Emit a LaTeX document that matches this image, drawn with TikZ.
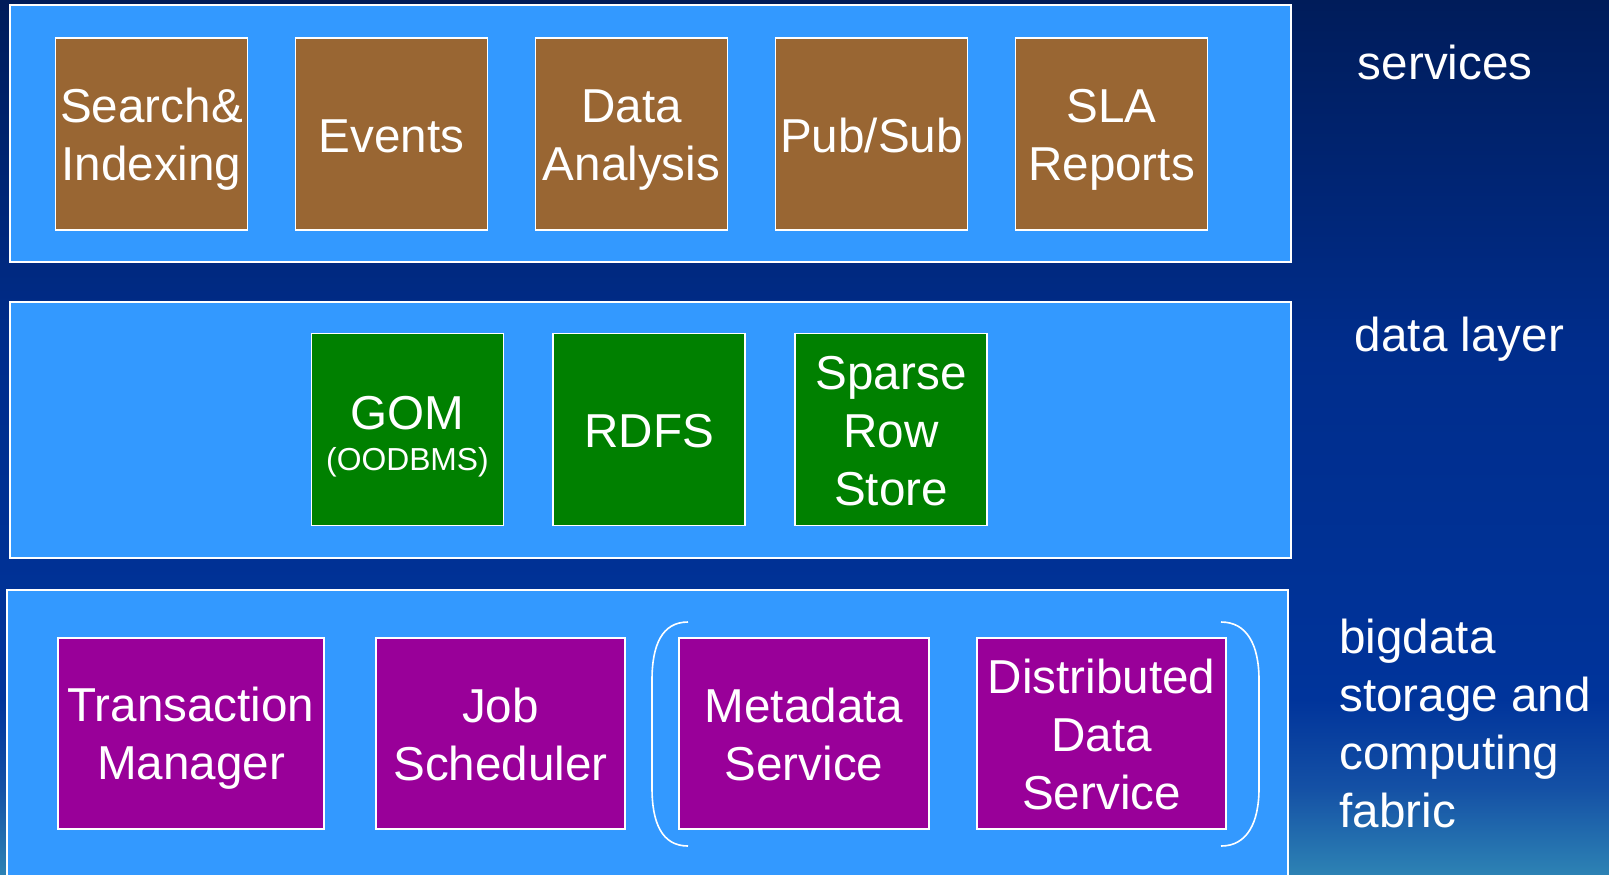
\documentclass[tikz,border=0pt]{standalone}
\usepackage{fontspec}
\setmainfont{Liberation Sans}
\usetikzlibrary{positioning}

\definecolor{seanavy}{RGB}{0,28,90}
\definecolor{seablue}{RGB}{0,45,140}
\definecolor{seamid}{RGB}{0,52,155}
\definecolor{seaup}{RGB}{20,80,165}
\definecolor{seateal}{RGB}{45,130,180}
\definecolor{layerblue}{RGB}{51,153,255}
\definecolor{servbrown}{RGB}{153,102,51}
\definecolor{datagreen}{RGB}{0,128,0}
\definecolor{fabpurple}{RGB}{153,0,153}

\pgfdeclareverticalshading{deepsea}{100bp}{%
	color(0bp)=(seateal); color(25bp)=(seateal); color(30bp)=(seaup);
	color(35bp)=(seamid); color(55bp)=(seablue); color(75bp)=(seanavy);
	color(100bp)=(seanavy)}

% strut for the first line of a block
\newcommand\capstrut{\vrule height 22pt depth 0pt width 0pt}

\begin{document}
\begin{tikzpicture}[x=0.5pt, y=-0.5pt,
	layer/.style={draw=white, line width=0.8pt, fill=layerblue},
	block/.style={draw=white, line width=0.9pt, text=white, align=center,
		inner sep=0pt, minimum width=96pt, minimum height=96pt,
		font=\fontsize{23.8}{29}\selectfont,
		execute at end node={\vrule height 0pt depth 4pt width 0pt}},
	svc/.style={block, fill=servbrown},
	dat/.style={block, fill=datagreen},
	fab/.style={block, fill=fabpurple, minimum height=95.5pt},
	tag/.style={text=white, align=left, inner sep=0pt,
		font=\fontsize{23.8}{29}\selectfont},
	bracket/.style={draw=white, line width=0.8pt}]

% parameters %{{{2

	\def\pitch{240}
	\def\svcy{134}
	\def\daty{429.5}
	\def\faby{733.5}

% background %{{{2

	\useasboundingbox (0,0) rectangle (1609,874);
	\shade[shading=deepsea] (0,0) rectangle (1609,874);
	\clip (0,0) rectangle (1609,874);

% layers %{{{2

	\draw[layer] (10,5) rectangle (1291,262);
	\draw[layer] (10,302) rectangle (1291,558);
	\draw[layer] (7,590) rectangle (1288,884);

% services %{{{2

	\foreach \name/\txt [count=\i] in {srch/{Search\&\\Indexing}, evts/Events,
		anls/{Data\\Analysis}, pubs/{Pub/Sub}, slar/{SLA\\Reports}} {
		\node[svc] (\name) at ({151.5+\pitch*(\i-1)},\svcy) {\capstrut\txt};
	}

% data layer %{{{2

	\node[dat] (gom) at (407.5,\daty)
		{\vrule height 24.4pt width 0pt GOM\\[-8.2pt]{\fontsize{15.9}{19}\selectfont(OODBMS)}};
	\node[dat, right=24pt of gom] (rdfs) {\capstrut RDFS};
	\node[dat, right=24pt of rdfs] (srs) {\capstrut Sparse\\Row\\Store};

% fabric %{{{2

	\node[fab, minimum width=133pt] (txm) at (191,\faby) {\capstrut Transaction\\Manager};
	\node[fab, minimum width=124.5pt] (jobs) at (500.5,\faby) {\capstrut Job\\Scheduler};
	\node[fab, minimum width=125pt] (mds) at (804,\faby) {\capstrut Metadata\\Service};
	\node[fab, minimum width=124.5pt] (dds) at (1101.5,\faby) {\capstrut Distributed\\Data\\Service};

% brackets round the metadata and data services %{{{2

	\draw[bracket] (688,622) .. controls (662,622) and (652,645) .. (652,680)
		-- (652,788) .. controls (652,823) and (662,846) .. (688,846);
	\draw[bracket] (1221,622) .. controls (1247,622) and (1259,645) .. (1259,680)
		-- (1259,788) .. controls (1259,823) and (1247,846) .. (1221,846);

% layer names %{{{2

	\node[tag, anchor=base west] (tsvc) at (1357.5,79) {services};
	\node[tag, anchor=base west] (tdat) at (1354.5,351) {data layer};
	\node[tag, anchor=base west] (tfab) at (1339,827)
		{bigdata\\storage and\\computing\\fabric};

% closing %{{{2

\end{tikzpicture}
\end{document}
